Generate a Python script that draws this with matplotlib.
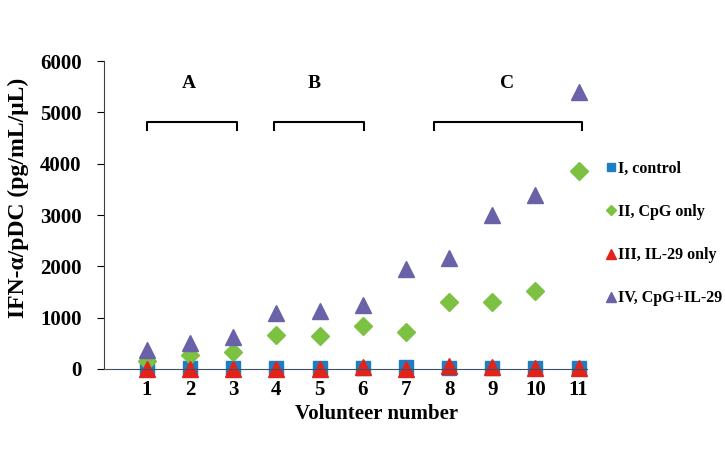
import matplotlib
matplotlib.use('Agg')
import matplotlib.pyplot as plt

# values
volunteers = [1, 2, 3, 4, 5, 6, 7, 8, 9, 10, 11]
control = [10, 10, 10, 10, 10, 10, 30, 20, 10, 10, 10]
cpg_only = [150, 280, 330, 660, 640, 840, 720, 1300, 1300, 1530, 3860]
il29_only = [0, 0, 0, 0, 0, 40, 0, 50, 30, 10, 10]
cpg_il29 = [380, 510, 620, 1090, 1140, 1240, 1940, 2170, 3000, 3400, 5400]

groups = ['A', 'B', 'C']
group_span = [(1, 3.09), (3.95, 6.04), (7.64, 11.07)]
group_label_x = [1.97, 4.87, 9.35]

plt.rcParams['font.family'] = ['Liberation Serif', 'DejaVu Serif']
plt.rcParams['font.weight'] = 'bold'

fig = plt.figure(figsize=(7.25, 4.5), dpi=100)
ax = fig.add_axes([0.143, 0.18, 0.667, 0.684])

ax.plot(volunteers, control, 's', color='#1F7DC1', ms=10, label='I, control', clip_on=False)
ax.plot(volunteers, cpg_only, 'D', color='#7DC142', ms=9, label='II, CpG only', clip_on=False)
ax.plot(volunteers, il29_only, '^', color='#E3231B', ms=12, label='III, IL-29 only', clip_on=False)
ax.plot(volunteers, cpg_il29, '^', color='#6962A8', ms=12, label='IV, CpG+IL-29', clip_on=False)

for g, (x0, x1), lx in zip(groups, group_span, group_label_x):
    ax.plot([x0, x0, x1, x1], [4660, 4820, 4820, 4660], color='black', lw=1.5)
    ax.text(lx, 5570, g, ha='center', va='center', fontsize=14, fontweight='bold')

ax.set_xlim(0, 11.2)
ax.set_ylim(0, 6000)
ax.set_yticks(range(0, 6001, 1000))
ax.set_xticks(volunteers)
ax.tick_params(axis='x', length=0, pad=8, labelsize=15)
ax.tick_params(axis='y', length=5, direction='out', labelsize=15, pad=11)
for lab in ax.get_xticklabels() + ax.get_yticklabels():
    lab.set_fontweight('bold')
ax.spines['top'].set_visible(False)
ax.spines['right'].set_visible(False)
ax.spines['left'].set_color('#404040')
ax.spines['bottom'].set_color('#405060')

ax.set_xlabel('Volunteer number', fontsize=15, fontweight='bold')
ax.xaxis.set_label_coords(0.565, -0.115)
ax.set_ylabel('IFN-α/pDC (pg/mL/μL)', fontsize=17, fontweight='bold')
ax.yaxis.set_label_coords(-0.155, 0.555)

leg = ax.legend(loc='center left', bbox_to_anchor=(1.02, 0.44), frameon=False,
                fontsize=11.5, markerscale=0.6, handlelength=0.6, handletextpad=0.1,
                labelspacing=1.7, borderaxespad=0.2)
for t in leg.get_texts():
    t.set_fontweight('bold')

fig.savefig('out.png', dpi=100)
